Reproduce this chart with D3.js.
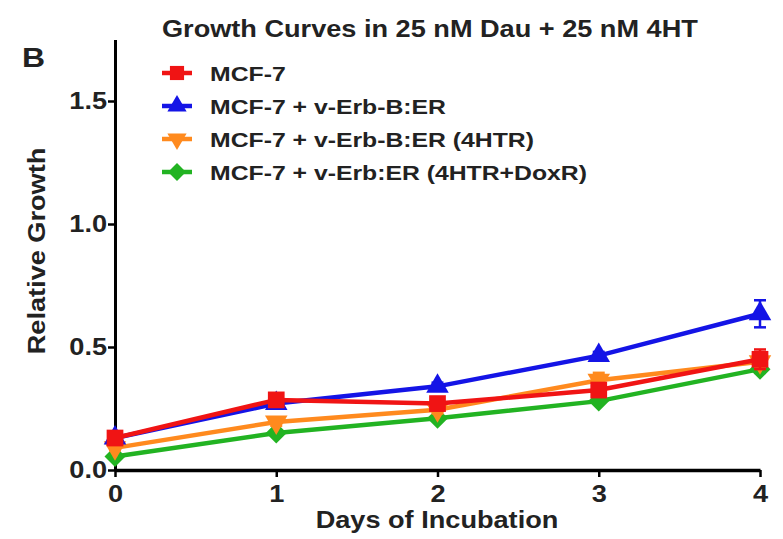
<!DOCTYPE html>
<html>
<head>
<meta charset="utf-8">
<script src="https://cdn.jsdelivr.net/npm/d3@7"></script>
<style>
  body { margin: 0; background: #fff; }
  svg { font-family: 'Liberation Sans', Arial, sans-serif; font-weight: bold; }
</style>
</head>
<body>
<div class="svg-container"></div>
<script>
const days = [0, 1, 2, 3, 4]
const seriesNames = [
  'MCF-7',
  'MCF-7 + v-Erb-B:ER',
  'MCF-7 + v-Erb-B:ER (4HTR)',
  'MCF-7 + v-Erb:ER (4HTR+DoxR)'
]
const mcf7 = [0.13, 0.285, 0.27, 0.325, 0.45]
const mcf7Err = [0.02, 0.02, 0.02, 0.02, 0.04]
const vErbB = [0.13, 0.27, 0.34, 0.465, 0.635]
const vErbBErr = [0.01, 0.02, 0.015, 0.015, 0.055]
const vErbB4htr = [0.09, 0.195, 0.245, 0.365, 0.44]
const vErbB4htrErr = [0.01, 0.015, 0.015, 0.03, 0.02]
const vErbDoxr = [0.055, 0.15, 0.21, 0.28, 0.41]
const vErbDoxrErr = [0.01, 0.01, 0.01, 0.01, 0.015]
const yTicks = [0, 0.5, 1.0, 1.5]

const width = 783
const height = 539
// glyphs in the figure are a bit wider than Liberation Sans
const stretch = 1.18

const series = [
  { name: seriesNames[0], values: mcf7, errs: mcf7Err, color: '#f01414', symbol: 'square' },
  { name: seriesNames[1], values: vErbB, errs: vErbBErr, color: '#1414e6', symbol: 'up' },
  { name: seriesNames[2], values: vErbB4htr, errs: vErbB4htrErr, color: '#ff8a1e', symbol: 'down' },
  { name: seriesNames[3], values: vErbDoxr, errs: vErbDoxrErr, color: '#22b322', symbol: 'diamond' }
]

const svg = d3
  .select('.svg-container')
  .append('svg')
  .attr('width', width)
  .attr('height', height)

const xScale = d3.scaleLinear([0, 4], [115, 760])
const yScale = d3.scaleLinear([0, 1.75], [470, 39.5])

function symbolPath(kind, size) {
  if (kind === 'square' || kind === 'diamond') return d3.symbol(d3.symbolSquare, size)()
  return d3.symbol(d3.symbolTriangle, size)()
}

function symbolTransform(kind, x, y) {
  if (kind === 'diamond') return `translate(${x}, ${y}) rotate(45)`
  if (kind === 'down') return `translate(${x}, ${y}) rotate(180)`
  return `translate(${x}, ${y})`
}

function addText(parent, x, y, str, size, anchor = 'start', rotate = 0) {
  return parent.append('text')
    .attr('transform', `translate(${x}, ${y}) rotate(${rotate}) scale(${stretch}, 1)`)
    .attr('text-anchor', anchor)
    .attr('font-size', size)
    .attr('fill', '#222')
    .text(str)
}

// axes
const xAxis = svg
  .append('g')
  .attr('transform', `translate(0, ${yScale(0)})`)
  .call(d3.axisBottom(xScale).tickValues(days).tickFormat(d3.format('d')).tickSize(7).tickSizeOuter(0))
xAxis.select('.domain').attr('stroke', '#000').attr('stroke-width', 3.5)
xAxis.selectAll('.tick line').attr('stroke-width', 2.5)
xAxis.selectAll('.tick text')
  .attr('font-size', 23).attr('dy', '0.95em').attr('fill', '#222')
  .attr('transform', `scale(${stretch}, 1)`)
  .attr('x', (d) => 0)

const yAxis = svg
  .append('g')
  .attr('transform', `translate(${xScale(0)}, 0)`)
  .call(d3.axisLeft(yScale).tickValues(yTicks).tickFormat(d3.format('.1f')).tickSize(7).tickSizeOuter(0))
yAxis.select('.domain').attr('stroke', '#000').attr('stroke-width', 3)
yAxis.selectAll('.tick line').attr('stroke-width', 2.5)
yAxis.selectAll('.tick text')
  .attr('font-size', 23).attr('x', -8 / stretch).attr('fill', '#222')
  .attr('transform', `scale(${stretch}, 1)`)

// series, drawn bottom to top
const line = d3.line().x((d, i) => xScale(days[i])).y((d) => yScale(d))

series.slice().reverse().forEach((s) => {
  const g = svg.append('g')
  g.append('path')
    .attr('d', line(s.values))
    .attr('fill', 'none')
    .attr('stroke', s.color)
    .attr('stroke-width', 4.5)

  s.values.forEach((v, i) => {
    const x = xScale(days[i])
    g.append('line')
      .attr('x1', x).attr('x2', x)
      .attr('y1', yScale(v - s.errs[i])).attr('y2', yScale(v + s.errs[i]))
      .attr('stroke', s.color).attr('stroke-width', 2.5)
    ;[v - s.errs[i], v + s.errs[i]].forEach((e) => {
      g.append('line')
        .attr('x1', x - 6).attr('x2', x + 6)
        .attr('y1', yScale(e)).attr('y2', yScale(e))
        .attr('stroke', s.color).attr('stroke-width', 2.5)
    })
  })

  g.selectAll('.marker')
    .data(s.values)
    .join('path')
    .attr('d', symbolPath(s.symbol, s.symbol === 'square' ? 280 : 220))
    .attr('transform', (d, i) => symbolTransform(s.symbol, xScale(days[i]), yScale(d)))
    .attr('fill', s.color)
})

// legend
const legend = svg.append('g').attr('transform', 'translate(177, 73)')
series.forEach((s, i) => {
  const row = legend.append('g').attr('transform', `translate(0, ${i * 33})`)
  row.append('line')
    .attr('x1', -15).attr('x2', 15)
    .attr('stroke', s.color).attr('stroke-width', 4.5)
  row.append('path')
    .attr('d', symbolPath(s.symbol, s.symbol === 'square' ? 200 : 160))
    .attr('transform', symbolTransform(s.symbol, 0, 0))
    .attr('fill', s.color)
  addText(row, 33, 8, s.name, 21)
})

// titles
addText(svg, 162, 37, 'Growth Curves in 25 nM Dau + 25 nM 4HT', 23)
addText(svg, 22, 67, 'B', 27)
addText(svg, 437, 528, 'Days of Incubation', 23, 'middle')
addText(svg, 45, 251, 'Relative Growth', 23, 'middle', -90)
</script>
</body>
</html>
